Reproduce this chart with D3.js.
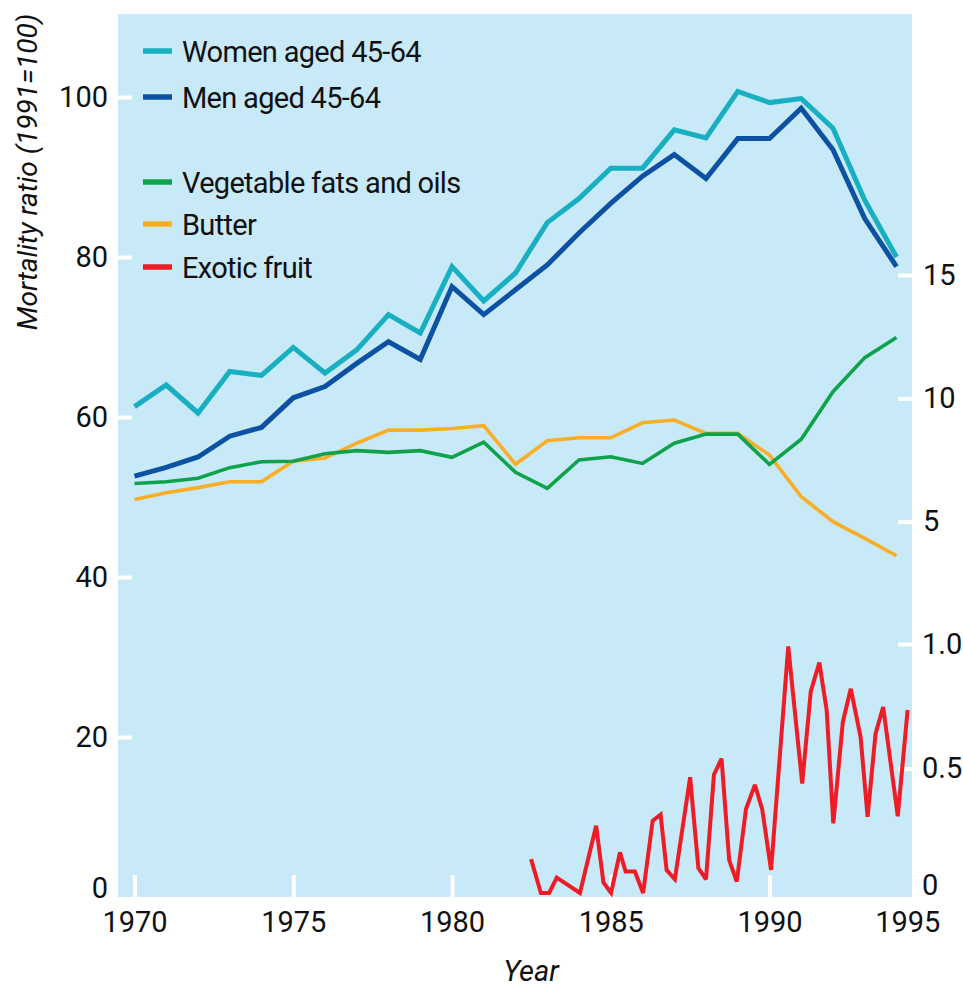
<!DOCTYPE html>
<html>
<head>
<meta charset="utf-8">
<script src="https://cdn.jsdelivr.net/npm/d3@7"></script>
<style>
  body { margin: 0; background: #fff; }
  svg text { font-family: Roboto, "Liberation Sans Narrow", "DejaVu Sans Condensed", sans-serif; fill: #111; }
</style>
</head>
<body>
<svg id="chart" width="963" height="989"></svg>
<script>
// years of the yearly series
var years = [1970, 1971, 1972, 1973, 1974, 1975, 1976, 1977, 1978, 1979, 1980, 1981, 1982,
             1983, 1984, 1985, 1986, 1987, 1988, 1989, 1990, 1991, 1992, 1993, 1994];

// mortality ratio (1991=100), left axis
var women = [61.3, 64.0, 60.5, 65.7, 65.2, 68.7, 65.5, 68.4, 72.8, 70.5, 78.8, 74.5, 78.0,
             84.3, 87.3, 91.1, 91.1, 95.9, 94.9, 100.7, 99.3, 99.8, 96.1, 87.1, 80.0];
var men = [52.6, 53.7, 55.0, 57.6, 58.7, 62.4, 63.8, 66.7, 69.4, 67.2, 76.3, 72.8, 75.9,
           79.0, 83.0, 86.7, 90.1, 92.8, 89.8, 94.8, 94.8, 98.6, 93.4, 84.8, 78.8];

// fats, upper right axis
var vegFats = [6.55, 6.62, 6.76, 7.19, 7.43, 7.45, 7.75, 7.88, 7.81, 7.88, 7.61, 8.22, 7.0,
               6.35, 7.50, 7.63, 7.36, 8.18, 8.55, 8.55, 7.32, 8.34, 10.27, 11.65, 12.47];
var butter = [5.9, 6.17, 6.38, 6.62, 6.62, 7.45, 7.58, 8.18, 8.71, 8.71, 8.78, 8.89, 7.33,
              8.28, 8.40, 8.40, 9.01, 9.12, 8.58, 8.58, 7.70, 6.01, 5.0, 4.32, 3.62];

// exotic fruit, lower right axis (sub-yearly readings)
var fruitTimes = [1982.49, 1982.80, 1983.06, 1983.30, 1984.03, 1984.54, 1984.77, 1985.01, 1985.29,
                  1985.47, 1985.76, 1986.02, 1986.32, 1986.57, 1986.76, 1987.02, 1987.50, 1987.76,
                  1988.00, 1988.25, 1988.49, 1988.73, 1988.97, 1989.26, 1989.54, 1989.77, 1990.05,
                  1990.59, 1991.03, 1991.30, 1991.57, 1991.80, 1992.01, 1992.31, 1992.56, 1992.87,
                  1993.09, 1993.34, 1993.58, 1994.04, 1994.35];
var fruitValues = [0.136, 0.0, 0.0, 0.062, 0.0, 0.27, 0.042, 0.0, 0.163,
                   0.086, 0.086, 0.0, 0.29, 0.315, 0.092, 0.055, 0.465, 0.10,
                   0.055, 0.475, 0.54, 0.132, 0.046, 0.337, 0.434, 0.337, 0.093,
                   0.99, 0.44, 0.81, 0.925, 0.735, 0.28, 0.687, 0.82, 0.626,
                   0.306, 0.64, 0.747, 0.308, 0.735];

// tick labels
var xTicks = [1970, 1975, 1980, 1985, 1990, 1995];
var leftTicks = [0, 20, 40, 60, 80, 100];
var fatTicks = [5, 10, 15];
var fruitTicks = [0, 0.5, 1.0];

// legend
var legendNames = ["Women aged 45-64", "Men aged 45-64", "Vegetable fats and oils", "Butter", "Exotic fruit"];
var legendColors = ["#17afc1", "#0d52a2", "#0ea24b", "#f9ae25", "#ee1c25"];

var panel = {l: 118, t: 14, r: 912, b: 897},
    fs = 29;

var svg = d3.select("#chart");

// scales
var x = d3.scaleLinear().domain([1970, 1995]).range([134.5, 928.25]),
    yL = d3.scaleLinear().domain([0, 100]).range([897, 97]),
    yFat = d3.scaleLinear().domain([0, 15]).range([645, 275]),
    yFruit = d3.scaleLinear().domain([0, 1]).range([893, 644]);

// background panel
svg.append("rect")
    .attr("x", panel.l).attr("y", panel.t)
    .attr("width", panel.r - panel.l).attr("height", panel.b - panel.t)
    .attr("fill", "#c7e9f8");

function styleAxis(g) {
    g.select(".domain").remove();
    g.selectAll(".tick line").attr("stroke", "#fff").attr("stroke-width", 4);
    g.selectAll(".tick text").style("font-size", fs + "px").attr("fill", "#111");
}

// left axis
svg.append("g").attr("transform", "translate(" + panel.l + ",0)")
    .call(d3.axisLeft(yL).tickValues(leftTicks).tickSize(-14).tickPadding(10))
    .call(styleAxis)
    .call(function (g) {
        g.selectAll(".tick").filter(function (d) { return d === 0; })
            .call(function (t) { t.select("line").remove(); t.select("text").attr("y", -9); });
    });

// bottom axis
svg.append("g").attr("transform", "translate(0," + panel.b + ")")
    .call(d3.axisBottom(x).tickValues(xTicks).tickSize(-22).tickPadding(14).tickFormat(d3.format("d")))
    .call(styleAxis)
    .call(function (g) {
        g.selectAll(".tick").filter(function (d) { return d === 1995; })
            .call(function (t) { t.select("line").remove(); t.select("text").attr("x", -21); });
    });

// right axis, fats
svg.append("g").attr("transform", "translate(" + panel.r + ",0)")
    .call(d3.axisRight(yFat).tickValues(fatTicks).tickSize(-14).tickPadding(11))
    .call(styleAxis);

// right axis, exotic fruit
svg.append("g").attr("transform", "translate(" + panel.r + ",0)")
    .call(d3.axisRight(yFruit).tickValues(fruitTicks).tickSize(-14).tickPadding(10)
        .tickFormat(function (d) { return d === 0 ? "0" : d3.format(".1f")(d); }))
    .call(styleAxis)
    .call(function (g) {
        g.selectAll(".tick").filter(function (d) { return d === 0; })
            .call(function (t) { t.select("line").remove(); t.select("text").attr("y", -8); });
    });

// lines
var lineL = d3.line().x(function (d, i) { return x(years[i]); }).y(function (d) { return yL(d); }),
    lineFat = d3.line().x(function (d, i) { return x(years[i]); }).y(function (d) { return yFat(d); }),
    lineFruit = d3.line().x(function (d, i) { return x(fruitTimes[i]); }).y(function (d) { return yFruit(d); });

function drawLine(data, gen, color, w) {
    svg.append("path").datum(data)
        .attr("d", gen)
        .attr("fill", "none")
        .attr("stroke", color)
        .attr("stroke-width", w)
        .attr("stroke-linejoin", "miter")
        .attr("stroke-miterlimit", 3);
}

drawLine(butter, lineFat, legendColors[3], 3.6);
drawLine(vegFats, lineFat, legendColors[2], 3.6);
drawLine(fruitValues, lineFruit, legendColors[4], 4);
drawLine(men, lineL, legendColors[1], 5);
drawLine(women, lineL, legendColors[0], 5);

// legend
var legendY = [51, 97, 182, 224, 267];
var lg = svg.append("g").selectAll("g").data(legendNames).enter().append("g")
    .attr("transform", function (d, i) { return "translate(143," + legendY[i] + ")"; });
lg.append("line").attr("x1", 0).attr("x2", 29).attr("y1", 0).attr("y2", 0)
    .attr("stroke", function (d, i) { return legendColors[i]; }).attr("stroke-width", 5.5);
lg.append("text").attr("x", 39).attr("y", 11)
    .style("font-size", fs + "px").style("letter-spacing", "-0.7px")
    .text(function (d) { return d; });

// axis titles
svg.append("text")
    .attr("transform", "translate(37,172) rotate(-90)")
    .attr("text-anchor", "middle")
    .style("font-size", "28px").style("font-style", "italic")
    .text("Mortality ratio (1991=100)");

svg.append("text")
    .attr("x", 531).attr("y", 981)
    .attr("text-anchor", "middle")
    .style("font-size", fs + "px").style("font-style", "italic")
    .text("Year");
</script>
</body>
</html>
